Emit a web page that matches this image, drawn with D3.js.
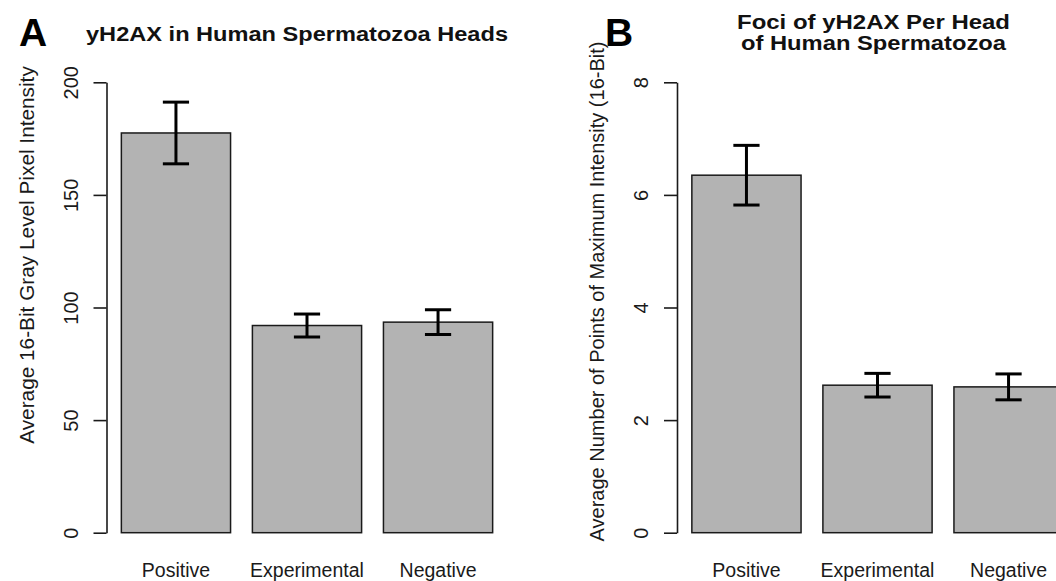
<!DOCTYPE html>
<html>
<head>
<meta charset="utf-8">
<script src="https://cdn.jsdelivr.net/npm/d3@7"></script>
<style>
  html, body { margin: 0; padding: 0; background: #fff; }
  svg { display: block; font-family: "Liberation Sans", Arial, Helvetica, sans-serif; }
</style>
</head>
<body>
<svg id="chart" width="1056" height="581"></svg>
<script>
// ---- data ----
const categories = ["Positive", "Experimental", "Negative"];
const intensityMeans = [177.5, 92.0, 93.5];
const intensityErr = [13.7, 5.1, 5.5];
const fociMeans = [6.35, 2.62, 2.59];
const fociErr = [0.53, 0.21, 0.23];
const ticksA = [0, 50, 100, 150, 200];
const ticksB = [0, 2, 4, 6, 8];
const panelLetters = ["A", "B"];
const titleA = ["yH2AX in Human Spermatozoa Heads"];
const titleB = ["Foci of yH2AX Per Head", "of Human Spermatozoa"];
const ylabA = "Average 16-Bit Gray Level Pixel Intensity";
const ylabB = "Average Number of Points of Maximum Intensity (16-Bit)";

const svg = d3.select("#chart");
svg.append("rect").attr("width", 1056).attr("height", 581).attr("fill", "#fff");

const barFill = "#b3b3b3";

function panel(opts) {
  const g = svg.append("g").attr("transform", `translate(${opts.dx},0)`);
  // x in R barplot units (width 1, space 0.2)
  const x = d3.scaleLinear().domain([0.064, 3.736]).range([106.5, 507.5]);
  const y = d3.scaleLinear().domain([0, opts.ymax]).range([532.7, 82.3]);
  const data = categories.map((c, i) => ({ c, i, v: opts.means[i], e: opts.err[i] }));
  const left = d => 0.2 + d.i * 1.2;

  g.selectAll("rect.bar").data(data).join("rect")
    .attr("class", "bar")
    .attr("x", d => x(left(d)))
    .attr("width", d => x(left(d) + 1) - x(left(d)))
    .attr("y", d => y(d.v))
    .attr("height", d => y(0) - y(d.v))
    .attr("fill", barFill)
    .attr("stroke", "#1a1a1a")
    .attr("stroke-width", 1.5);

  // error bars
  const eb = g.selectAll("g.err").data(data).join("g").attr("class", "err");
  const cx = d => x(left(d) + 0.5);
  const capHalf = (x(0.12) - x(0));
  eb.append("line")
    .attr("x1", cx).attr("x2", cx)
    .attr("y1", d => y(d.v + d.e)).attr("y2", d => y(d.v - d.e))
    .attr("stroke", "#000").attr("stroke-width", 3);
  eb.append("line")
    .attr("x1", d => cx(d) - capHalf).attr("x2", d => cx(d) + capHalf)
    .attr("y1", d => y(d.v + d.e)).attr("y2", d => y(d.v + d.e))
    .attr("stroke", "#000").attr("stroke-width", 3);
  eb.append("line")
    .attr("x1", d => cx(d) - capHalf).attr("x2", d => cx(d) + capHalf)
    .attr("y1", d => y(d.v - d.e)).attr("y2", d => y(d.v - d.e))
    .attr("stroke", "#000").attr("stroke-width", 3);

  // y axis
  const ax = g.append("g").attr("transform", `translate(${x(0.064)},0)`)
    .call(d3.axisLeft(y).tickValues(opts.ticks).tickSize(13).tickSizeOuter(0).tickFormat(d3.format("d")));
  ax.select(".domain").attr("stroke", "#1a1a1a").attr("stroke-width", 1.6);
  ax.selectAll(".tick line").attr("stroke", "#1a1a1a").attr("stroke-width", 1.6);
  ax.selectAll(".tick text")
    .attr("transform", "rotate(-90)")
    .attr("x", 0).attr("y", -36).attr("dy", "0.35em")
    .attr("text-anchor", "middle")
    .attr("font-size", 20)
    .attr("font-family", "'Liberation Sans', Arial, sans-serif")
    .attr("fill", "#1a1a1a");

  // category labels
  g.selectAll("text.cat").data(data).join("text")
    .attr("class", "cat")
    .attr("x", cx).attr("y", 577)
    .attr("text-anchor", "middle")
    .attr("font-size", 19.5)
    .attr("fill", "#1a1a1a")
    .text(d => d.c);

  // y label
  g.append("text")
    .attr("transform", `translate(${x(0.064) - 80},${opts.ylabY}) rotate(-90)`)
    .attr("text-anchor", "middle")
    .attr("dy", "0.35em")
    .attr("font-size", opts.ylabSize)
    .attr("fill", "#1a1a1a")
    .text(opts.ylab);

  return g;
}

panel({ dx: 0, ymax: 200, means: intensityMeans, err: intensityErr, ticks: ticksA, ylab: ylabA, ylabY: 255, ylabSize: 20.8 });
panel({ dx: 570.5, ymax: 8, means: fociMeans, err: fociErr, ticks: ticksB, ylab: ylabB, ylabY: 291.5, ylabSize: 20 });

// panel letters
svg.append("text").attr("x", 19).attr("y", 46).attr("font-size", 39).attr("font-weight", "bold").text(panelLetters[0]);
svg.append("text").attr("x", 605).attr("y", 46).attr("font-size", 39).attr("font-weight", "bold").text(panelLetters[1]);

// titles (reference glyphs are slightly wider than Arial bold: stretch to measured widths)
const titleAWidths = [422];
const titleBWidths = [273, 265];
svg.selectAll("text.tA").data(titleA).join("text")
  .attr("class", "tA")
  .attr("x", 86).attr("y", (d, i) => 40.5 + i * 21)
  .attr("font-size", 20).attr("font-weight", "bold")
  .attr("textLength", (d, i) => titleAWidths[i]).attr("lengthAdjust", "spacingAndGlyphs")
  .attr("fill", "#111")
  .text(d => d);
svg.selectAll("text.tB").data(titleB).join("text")
  .attr("class", "tB")
  .attr("x", (d, i) => 873.5 - titleBWidths[i] / 2).attr("y", (d, i) => 28.5 + i * 21)
  .attr("font-size", 19.5).attr("font-weight", "bold")
  .attr("textLength", (d, i) => titleBWidths[i]).attr("lengthAdjust", "spacingAndGlyphs")
  .attr("fill", "#111")
  .text(d => d);
</script>
</body>
</html>
